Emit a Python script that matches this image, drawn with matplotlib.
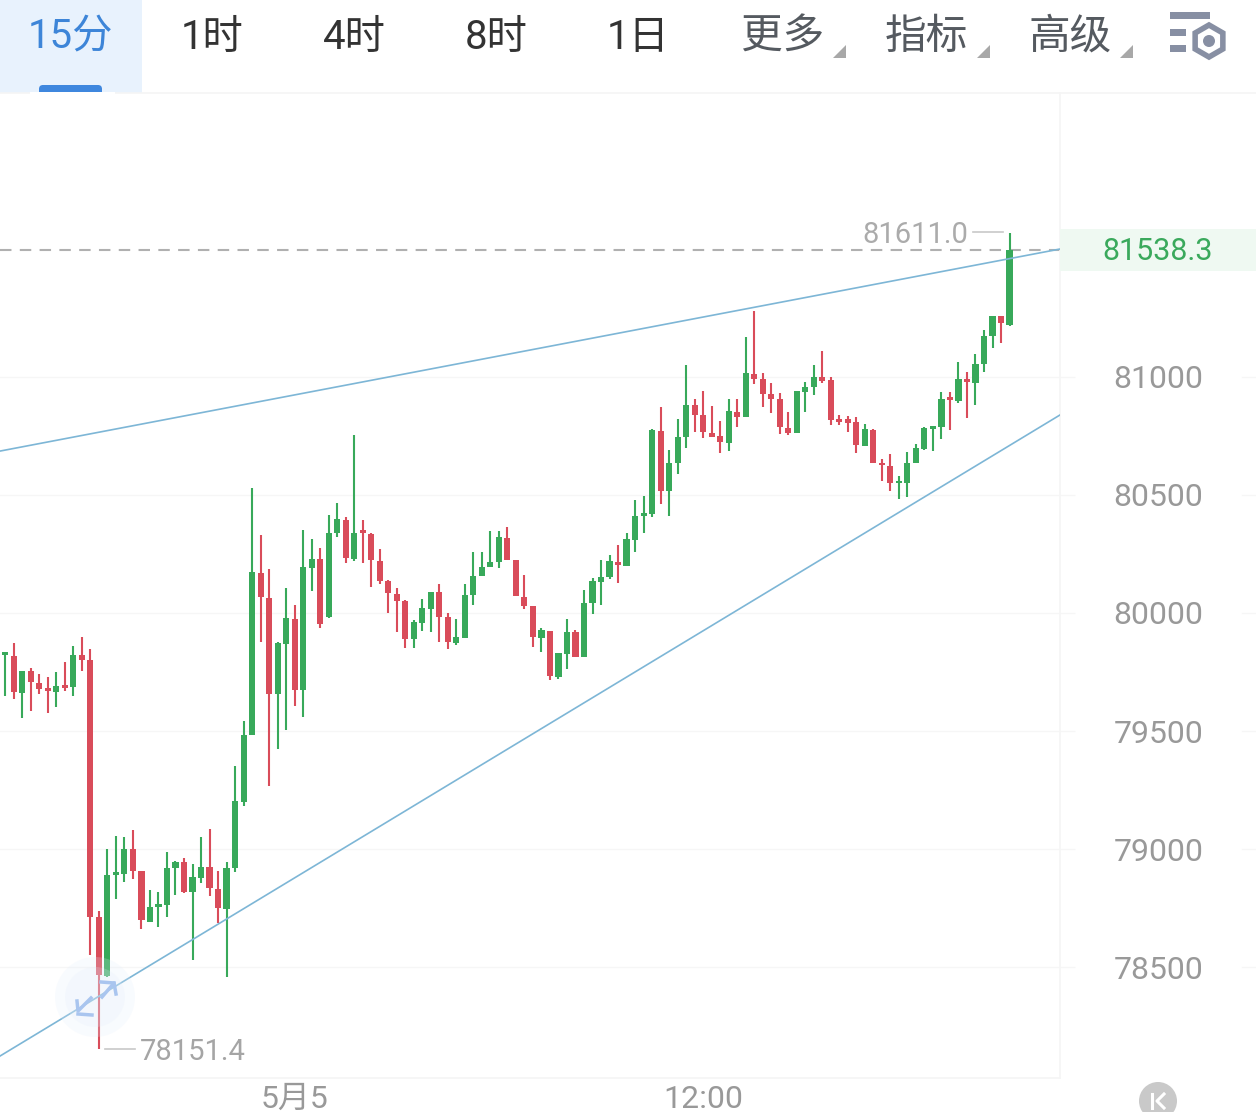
import matplotlib
matplotlib.use("Agg")
import matplotlib.pyplot as plt
from matplotlib.patches import Rectangle, Circle, Polygon, FancyBboxPatch, RegularPolygon
from matplotlib.lines import Line2D
import numpy as np

plt.rcParams['font.family'] = ['Roboto', 'Noto Sans CJK SC', 'DejaVu Sans']

highs = [79833,79871,79756,79768,79742,79727,79751,79794,79860,79900,79846,78739,79000,79057,79050,79079,78908,78826,78816,78987,
         78950,78963,78936,79052,79085,78908,78945,79353,79542,80528,80332,80187,79879,80108,80034,80352,80315,80277,80417,80466,
         80406,80753,80396,80338,80270,80139,80108,80054,79971,80060,80091,80122,79999,79973,80123,80260,80260,80349,80347,80363,
         80224,80162,80031,79936,79925,79829,79976,79928,80097,80148,80224,80247,80286,80341,80479,80495,80779,80871,80690,80820,
         81051,80908,80942,80877,80815,80906,80906,81168,81279,81018,80973,80931,80850,80940,80980,81049,81108,81000,80837,80835,
         80829,80799,80778,80651,80673,80582,80683,80716,80789,80791,80938,80935,81063,81022,81099,81199,81260,81260,81611.0]
lows = [79648,79636,79557,79586,79657,79575,79600,79671,79650,79756,78551,78151.4,78459,78787,78859,78871,78660,78689,78671,78710,
        78804,78815,78532,78855,78802,78688,78459,78904,79182,79483,79879,79267,79423,79504,79606,79561,80093,79938,79980,80321,
        80211,80222,80211,80112,80124,80002,79918,79852,79851,79923,79921,79876,79846,79863,79896,80034,80158,80195,80192,80223,
        80073,80015,79858,79836,79716,79720,79761,79815,79813,79994,80032,80142,80128,80199,80258,80337,80408,80460,80413,80587,
        80699,80768,80741,80747,80676,80686,80786,80829,80970,80874,80846,80757,80753,80761,80851,80925,80973,80796,80798,80767,
        80678,80707,80634,80558,80517,80483,80491,80634,80689,80685,80737,80775,80891,80825,80881,81022,81121,81142,81216]
opens = [79821,79819,79662,79754,79702,79676,79667,79695,79685,79822,79801,78713,78462,78890,78893,78999,78908,78692,78756,78763,
         78918,78943,78818,78878,78924,78832,78747,78918,79201,79483,80171,80065,79656,79869,79975,79674,80191,80228,79982,80338,
         80394,80230,80343,80336,80221,80137,80081,80050,79889,79959,80019,80091,79983,79875,79896,80076,80158,80195,80217,80317,
         80223,80069,80031,79894,79925,79730,79826,79918,79813,80041,80131,80151,80217,80199,80309,80411,80419,80769,80515,80634,
         80744,80880,80837,80764,80750,80721,80851,80829,81011,80990,80926,80907,80784,80761,80936,80959,81000,80986,80820,80820,
         80808,80707,80777,80637,80621,80549,80552,80634,80695,80781,80786,80911,80898,80991,80976,81053,81173,81258,81221]
closes = [79829,79665,79756,79708,79678,79669,79691,79684,79822,79801,78713,78466,78890,78900,79002,78908,78699,78756,78764,78921,
          78946,78819,78880,78925,78833,78749,78921,79202,79484,80173,80069,79656,79872,79978,79674,80194,80230,79954,80341,80397,
          80235,80341,80338,80223,80137,80084,80051,79890,79961,80020,80091,79985,79879,79897,80076,80158,80195,80218,80320,80223,
          80073,80031,79898,79926,79733,79829,79918,79815,80043,80134,80154,80221,80203,80312,80412,80425,80775,80515,80634,80747,
          80881,80840,80768,80747,80724,80854,80829,81015,80990,80928,80907,80786,80764,80939,80959,81001,80983,80818,80809,80806,
          80712,80778,80637,80625,80552,80558,80635,80698,80782,80789,80908,80902,80993,80977,81055,81175,81260,81227,81538.3]

price_ticks = [78500, 79000, 79500, 80000, 80500, 81000]
time_ticks = [34, 82]
time_labels = ['5月5', '12:00']
upper_line_x = [-0.62, 123.93]
upper_line_y = [80686, 81542]
lower_line_x = [-0.62, 123.93]
lower_line_y = [78123, 80839]
last_price = 81538.3
top_tabs = ['15分', '1时', '4时', '8时', '1日']
more_tabs = ['更多', '指标', '高级']

W, H = 1256, 1112
GREEN = '#38a95a'
RED = '#d94c5a'
fig = plt.figure(figsize=(W / 100, H / 100), dpi=100, facecolor='white')
ax = fig.add_axes([0, (H - 1078) / H, 1060 / W, (1078 - 93) / H])
ax.set_xlim(-0.62, 123.93)
ax.set_ylim(78030, 82203)

idx = np.arange(len(opens))
o, h, l, c = map(np.array, (opens, highs, lows, closes))
cols = [GREEN if a >= b else RED for a, b in zip(c, o)]
ax.vlines(idx, l, h, colors=cols, lw=1.5, zorder=3)
bottoms = np.minimum(o, c)
heights = np.maximum(np.abs(c - o), 12)
ax.bar(idx, heights, bottom=bottoms, width=0.72, color=cols, lw=0, zorder=4)

ax.plot(upper_line_x, upper_line_y, color='#7db6d6', lw=1.2, zorder=5)
ax.plot(lower_line_x, lower_line_y, color='#7db6d6', lw=1.2, zorder=5)
ax.axhline(last_price, color='#b0b0b0', lw=1.5, dashes=(5.5, 4), zorder=2)

for s in ('top', 'left'):
    ax.spines[s].set_visible(False)
for s in ('right', 'bottom'):
    ax.spines[s].set_color('#f5f5f5')
    ax.spines[s].set_linewidth(1.2)
ax.yaxis.tick_right()
ax.set_yticks(price_ticks)
ax.set_yticklabels([str(t) for t in price_ticks], fontsize=23, color='#999999', ha='center')
ax.tick_params(axis='y', length=11, color='#f6f6f6', pad=60, width=1)
ax.set_xticks(time_ticks)
ax.set_xticklabels(time_labels, fontsize=23, color='#999999')
ax.tick_params(axis='x', length=0, pad=5)
ax.grid(axis='y', color='#f6f6f6', lw=1)
ax.set_axisbelow(True)

# extreme labels
ax.annotate('81611.0', xy=(118, 81611), xytext=(-41, -2), textcoords='offset pixels',
            ha='right', va='center', fontsize=21, color='#ababab', zorder=6)
ax.annotate('78151.4', xy=(11, 78151.4), xytext=(41, -3), textcoords='offset pixels',
            ha='left', va='center', fontsize=21, color='#a5a5a5', zorder=6)

# chrome overlay in pixel coordinates
ov = fig.add_axes([0, 0, 1, 1], facecolor='none')
ov.set_xlim(0, W)
ov.set_ylim(H, 0)
ov.axis('off')

ov.add_line(Line2D([973, 1003], [232, 232], color='#c8c8c8', lw=1.2))
ov.add_line(Line2D([105, 135], [1049, 1049], color='#c8c8c8', lw=1.2))
ov.add_line(Line2D([0, W], [93, 93], color='#f5f5f5', lw=1.2))
for y in (377, 495, 613, 731, 849, 967):
    ov.add_line(Line2D([1242, W], [y, y], color='#f6f6f6', lw=1))

# price tag
ov.add_patch(Rectangle((1060, 229), 196, 42, fc='#eff9f2', ec='none', zorder=1))
ov.text(1158, 251.5, '81538.3', ha='center', va='center', fontsize=22, color='#3aa95c', zorder=2)

# tabs
ov.add_patch(Rectangle((0, 0), 142, 93, fc='#e8f2fd', ec='none'))
ov.add_patch(FancyBboxPatch((39, 85), 63, 16, boxstyle='round,pad=0,rounding_size=4', fc='#3f87de', ec='none', zorder=3))
ov.add_patch(Rectangle((30, 92), 85, 12, fc='white', ec='none', zorder=4))
tab_x = [70, 212, 354, 496, 638]
for i, (t, x) in enumerate(zip(top_tabs, tab_x)):
    ov.text(x, 37, t, ha='center', va='center', fontsize=29, color='#3d85d8' if i == 0 else '#333333')
more_x = [783, 926, 1070]
tri_x = [833, 977, 1120]
for t, x, tx in zip(more_tabs, more_x, tri_x):
    ov.text(x, 37, t, ha='center', va='center', fontsize=30, color='#555a60')
    ov.add_patch(Polygon([[tx + 13, 45], [tx + 13, 58], [tx, 58]], closed=True, fc='#a8a8a8', ec='none'))

# settings icon
ico = '#878fa3'
ov.add_patch(Rectangle((1170, 12), 40, 7, fc=ico, ec='none'))
ov.add_patch(Rectangle((1170, 29), 16, 7, fc=ico, ec='none'))
ov.add_patch(Rectangle((1170, 45), 16, 7, fc=ico, ec='none'))
ov.add_patch(RegularPolygon((1209, 41), 6, radius=16, fc='none', ec=ico, lw=4))
ov.add_patch(Circle((1209, 41), 6, fc=ico, ec='none'))

# zoom button
ov.add_patch(Circle((95, 997), 40, fc='#e3edfb', ec='none', alpha=0.22, zorder=6))
ov.add_patch(Circle((95, 997), 30, fc='#e3edfb', ec='none', alpha=0.22, zorder=6))
arrow = '#a9c5ef'
ov.add_line(Line2D([102, 114, 116], [997, 983, 994], color=arrow, lw=2.5, zorder=7))
ov.add_line(Line2D([101, 114], [982, 983], color=arrow, lw=2.5, zorder=7))
ov.add_line(Line2D([91, 78, 77], [998, 1011, 1001], color=arrow, lw=2.5, zorder=7))
ov.add_line(Line2D([78, 92], [1014, 1015], color=arrow, lw=2.5, zorder=7))

# K button
ov.add_patch(Circle((1158, 1101), 19, fc='#c9c9c9', ec='none', clip_on=True))
ov.add_line(Line2D([1152, 1152], [1094, 1108], color='white', lw=2.2))
ov.add_line(Line2D([1164, 1157, 1164], [1094, 1101, 1108], color='white', lw=2.2))

fig.savefig('out.png', dpi=100, facecolor='white')
